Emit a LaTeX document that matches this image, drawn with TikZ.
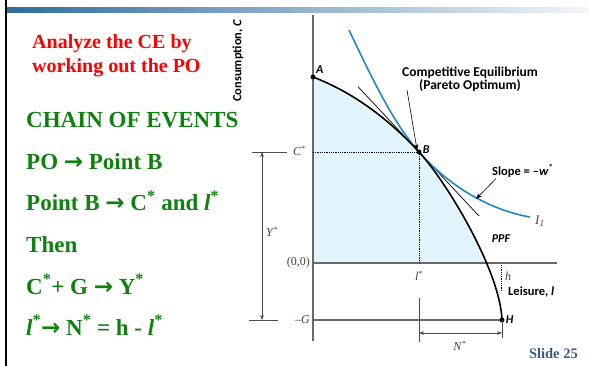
\documentclass[tikz,border=0pt]{standalone}
\usepackage{fontspec}
\setmainfont{Liberation Serif}
\newfontfamily\graphsans{Carlito}
\newfontfamily\arrowsym{DejaVu Sans}
\usetikzlibrary{arrows.meta}
\definecolor{slidered}{RGB}{255, 0, 0}
\definecolor{slidegreen}{RGB}{16, 128, 16}
\definecolor{barblue}{RGB}{48, 108, 158}
\definecolor{ppffill}{RGB}{226, 245, 252}
\definecolor{icblue}{RGB}{30, 136, 200}
\definecolor{axisgray}{RGB}{105, 105, 105}
\definecolor{slidenum}{RGB}{60, 90, 130}

\newcommand{\evarrow}{{\arrowsym\bfseries →}}
\newcommand{\starred}[1]{#1\textsuperscript{*}}

\tikzset{
    redline/.style={anchor=base west, inner sep=0pt, text=slidered,
        font=\bfseries\fontsize{20}{22}\selectfont},
    chainline/.style={anchor=base west, inner sep=0pt, text=slidegreen,
        font=\bfseries\fontsize{23}{26}\selectfont},
    axisline/.style={draw=axisgray, line width=1.3pt},
    dimline/.style={draw=axisgray!70!black, line width=0.6pt},
    axlbl/.style={text=black!75, inner sep=1pt, font=\fontsize{12}{13}\selectfont},
    ptlbl/.style={inner sep=1pt, font=\graphsans\bfseries\itshape\fontsize{12}{13}\selectfont},
    sanslbl/.style={inner sep=0pt, font=\graphsans\bfseries\fontsize{12.5}{13}\selectfont},
    ptdot/.style={circle, fill=black, inner sep=0pt, minimum size=5pt},
}

\begin{document}
\begin{tikzpicture}[x=1pt, y=-1pt]
    \useasboundingbox (0,0) rectangle (589,366);

    % Slide frame
    \draw[line width=1.6pt] (6,0) -- (6,366);
    \shade[left color=barblue, right color=barblue!6] (7,8) rectangle (589,12.5);

    % Left column
    \node[redline] (head1) at (32,49) {Analyze the CE by};
    \node[redline] (head2) at (32,73) {working out the PO};
    \node[chainline] (chain) at (26,128) {CHAIN OF EVENTS};
    \node[chainline] (step1) at (26,170) {PO \evarrow{} Point B};
    \node[chainline] (step2) at (26,211) {Point B \evarrow{} \starred{C} and \starred{\textit{l}}};
    \node[chainline] (step3) at (26,253) {Then};
    \node[chainline] (step4) at (26,294) {\starred{C}+ G \evarrow{} \starred{Y}};
    \node[chainline] (step5) at (26,335) {\starred{\textit{l}}\evarrow{} \starred{N} = h - \starred{\textit{l}}};

    % Feasible region under the PPF
    \begin{scope}
        \clip (313,0) rectangle (589,263);
        \fill[ppffill] (313,77) .. controls (360,95) and (395,126) .. (419,152)
            .. controls (446,181) and (500,270) .. (502,320) -- (313,320) -- cycle;
    \end{scope}

    % Axes
    \draw[axisline] (313,15) -- (313,341);
    \draw[axisline] (313,263) -- (557,263);
    \draw[axisline] (313,320) -- (502,320);
    \node[sanslbl, rotate=90, anchor=west] (ylbl) at (238,102) {Consumption, \textit{C}};
    \node[sanslbl, anchor=west] (xlbl) at (508,292) {Leisure, \textit{l}};
    \node[axlbl, anchor=east] (origin) at (311,263) {(0,0)};
    \node[axlbl, anchor=east] (glbl) at (311,320) {\textit{–G}};

    % Guides through B
    \draw[densely dotted, line width=0.8pt] (313,152) -- (419,152) -- (419,263);
    \draw[densely dotted, line width=0.8pt] (501,265) -- (501,292);
    \node[axlbl, anchor=east] (cstar) at (307,151) {\starred{\textit{C}}};
    \node[axlbl] (lstar) at (419,276) {\starred{\textit{l}}};
    \node[axlbl, anchor=west] (hlbl) at (504,276) {\textit{h}};

    % Tangent, indifference curve and PPF
    \draw[line width=0.7pt] (358,86.7) -- (479,216);
    \draw[icblue, line width=1.6pt] (349,30) .. controls (375,85) and (395,125) .. (419,152)
        .. controls (450,187) and (490,210) .. (530,217);
    \draw[line width=1.6pt] (313,77) .. controls (360,95) and (395,126) .. (419,152)
        .. controls (446,181) and (500,270) .. (502,320);
    \node[axlbl, anchor=west, font=\itshape\fontsize{13}{13}\selectfont] (iclbl) at (534,221) {I\textsubscript{1}};
    \node[ptlbl] (ppflbl) at (501,239) {PPF};

    % Points
    \node[ptdot] (ptA) at (313,77) {};
    \node[ptdot] (ptB) at (419,152) {};
    \node[ptdot] (ptH) at (502,320) {};
    \node[ptlbl, anchor=south west] at (ptA.north east) {A};
    \node[ptlbl, anchor=south west] at ([yshift=-3pt]ptB.east) {B};
    \node[ptlbl, anchor=west] at (ptH.east) {H};

    % Callouts
    \node[sanslbl, align=center, font=\graphsans\bfseries\fontsize{13.5}{11}\selectfont] (celbl) at (470,79)
        {Competitive Equilibrium\\(Pareto Optimum)};
    \coordinate (ceTail) at (407,90);
    \draw[line width=0.6pt, -{Stealth[length=6pt]}] (ceTail) -- (ptB.north west);
    \node[sanslbl, anchor=west] (slopelbl) at (492,171) {Slope = –\starred{\textit{w}}};
    \coordinate (slopeTip) at (476,199);
    \draw[line width=0.6pt, -{Stealth[length=6pt]}] ([shift={(4pt,-1pt)}]slopelbl.south west) -- (slopeTip);

    % Dimension Y*
    \draw[dimline] (252,152) -- (287,152);
    \draw[dimline] (249,320) -- (278,320);
    \coordinate (yTop) at (262,152);
    \coordinate (yBot) at (262,320);
    \draw[dimline, {Stealth[length=5pt]}-{Stealth[length=5pt]}] (yTop) -- (yBot);
    \node[axlbl, anchor=west] (ystar) at (265,232) {\starred{\textit{Y}}};

    % Dimension N*
    \draw[dimline] (419,298) -- (419,342);
    \draw[dimline] (502,320) -- (502,338);
    \coordinate (nLeft) at (419,333);
    \coordinate (nRight) at (502,333);
    \draw[dimline, {Stealth[length=5pt]}-{Stealth[length=5pt]}] (nLeft) -- (nRight);
    \node[axlbl] (nstar) at (460,346) {\starred{\textit{N}}};

    \node[anchor=base east, inner sep=0pt, text=slidenum, font=\bfseries\fontsize{14.5}{15}\selectfont]
        (slideno) at (578,358) {Slide 25};
\end{tikzpicture}
\end{document}
